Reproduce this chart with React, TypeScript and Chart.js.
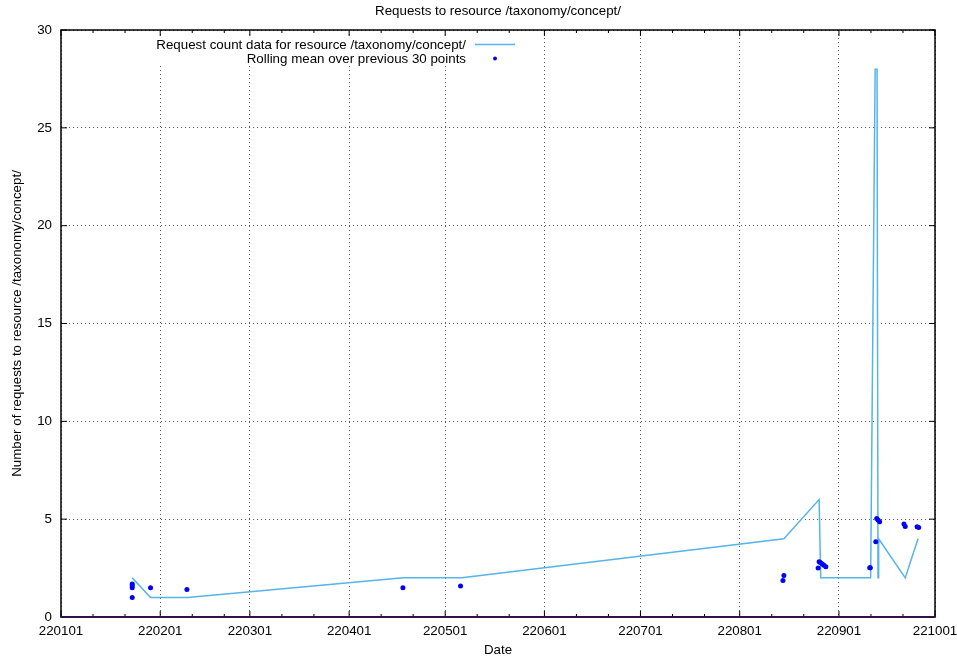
import React, { useEffect, useRef } from 'react';
import { Chart, registerables } from 'chart.js';

Chart.register(...registerables);

// ---- data ----
const monthStartDays = [0, 31, 59, 90, 120, 151, 181, 212, 243, 273];
const monthLabels = ['220101', '220201', '220301', '220401', '220501', '220601', '220701', '220801', '220901', '221001'];
const yTickValues = [0, 5, 10, 15, 20, 25, 30];

// request counts (x = day since 2022-01-01)
const countDays = [22.25, 27.97, 39.5, 106.9, 125.2, 225.8, 236.8, 237.3, 252.9, 254.3, 254.9, 255.2, 255.4, 263.7, 267.7];
const countValues = [2, 1, 1, 2, 2, 4, 6, 2, 2, 28, 28, 2, 4, 2, 4];

// rolling mean points
const meanDays = [22.25, 22.25, 22.25, 22.25, 27.97, 39.33, 106.8, 124.8, 225.5, 225.8, 236.5, 236.8, 237.2, 237.8, 238.3, 238.9, 252.6, 252.8, 254.5, 254.8, 255.2, 255.7, 263.3, 263.7, 267.4, 267.9];
const meanValues = [1.0, 1.5, 1.6, 1.69, 1.5, 1.41, 1.5, 1.58, 1.87, 2.12, 2.5, 2.83, 2.79, 2.71, 2.65, 2.57, 2.52, 2.52, 3.85, 5.04, 4.96, 4.87, 4.75, 4.63, 4.61, 4.58];

const TITLE = 'Requests to resource /taxonomy/concept/';
const X_TITLE = 'Date';
const Y_TITLE = 'Number of requests to resource /taxonomy/concept/';
const COUNT_LABEL = 'Request count data for resource /taxonomy/concept/';
const MEAN_LABEL = 'Rolling mean over previous 30 points';

// ---- styles ----
const FONT_FAMILY = '"Liberation Sans", Arial, Helvetica, sans-serif';
const FONT_SIZE = 13.33;
const LINE_COLOR = '#56b4e9';
const DOT_COLOR = '#0000ff';
const GRID_COLOR = 'rgba(60,60,60,0.85)';

const decorPlugin = {
  id: 'gnuplotDecor',
  afterDraw(chart: any) {
    const { ctx, chartArea: a, scales } = chart;
    const xs = scales.x;
    const ys = scales.y;
    ctx.save();

    // inward tick marks
    ctx.strokeStyle = '#000';
    ctx.lineWidth = 1;
    ctx.setLineDash([]);
    ctx.beginPath();
    monthStartDays.forEach((d) => {
      const px = xs.getPixelForValue(d);
      ctx.moveTo(px, a.bottom); ctx.lineTo(px, a.bottom - 6);
      ctx.moveTo(px, a.top); ctx.lineTo(px, a.top + 6);
    });
    for (let i = 0; i < monthStartDays.length - 1; i++) {
      [10, 20].forEach((off) => {
        const px = xs.getPixelForValue(monthStartDays[i] + off);
        ctx.moveTo(px, a.bottom); ctx.lineTo(px, a.bottom - 3);
        ctx.moveTo(px, a.top); ctx.lineTo(px, a.top + 3);
      });
    }
    yTickValues.forEach((v) => {
      const py = ys.getPixelForValue(v);
      ctx.moveTo(a.left, py); ctx.lineTo(a.left + 6, py);
      ctx.moveTo(a.right, py); ctx.lineTo(a.right - 6, py);
    });
    ctx.stroke();

    // frame
    ctx.lineWidth = 1.5;
    ctx.strokeStyle = '#000';
    ctx.beginPath();
    ctx.moveTo(a.left, a.bottom);
    ctx.lineTo(a.left, a.top);
    ctx.lineTo(a.right, a.top);
    ctx.lineTo(a.right, a.bottom);
    ctx.stroke();
    ctx.lineWidth = 2;
    ctx.strokeStyle = '#361046';
    ctx.beginPath();
    ctx.moveTo(a.left - 0.75, a.bottom);
    ctx.lineTo(a.right + 0.75, a.bottom);
    ctx.stroke();

    // title
    ctx.fillStyle = '#000';
    ctx.font = `${FONT_SIZE}px ${FONT_FAMILY}`;
    ctx.textAlign = 'center';
    ctx.textBaseline = 'middle';
    ctx.fillText(TITLE, (a.left + a.right) / 2, 11);

    // key (opaque box like gnuplot)
    const ds0 = chart.data.datasets[0];
    const ds1 = chart.data.datasets[1];
    ctx.fillStyle = '#fff';
    ctx.fillRect(150, 37, 380, 27);
    ctx.fillStyle = '#000';
    ctx.textAlign = 'right';
    ctx.fillText(ds0.label, 466, 45);
    ctx.fillText(ds1.label, 466, 59);
    ctx.strokeStyle = ds0.borderColor;
    ctx.lineWidth = ds0.borderWidth;
    ctx.beginPath();
    ctx.moveTo(475, 44.5);
    ctx.lineTo(515, 44.5);
    ctx.stroke();
    ctx.fillStyle = ds1.backgroundColor;
    ctx.beginPath();
    ctx.arc(495, 58.5, 2, 0, Math.PI * 2);
    ctx.fill();

    ctx.restore();
  },
};

export default function App() {
  const ref = useRef<HTMLCanvasElement | null>(null);

  useEffect(() => {
    if (!ref.current) return;
    const font = { family: FONT_FAMILY, size: FONT_SIZE };
    const chart = new Chart(ref.current, {
      type: 'scatter',
      data: {
        datasets: [
          {
            label: COUNT_LABEL,
            data: countDays.map((d, i) => ({ x: d, y: countValues[i] })),
            showLine: true,
            borderColor: LINE_COLOR,
            backgroundColor: LINE_COLOR,
            borderWidth: 1.5,
            pointRadius: 0,
            pointHoverRadius: 0,
            tension: 0,
            order: 2,
          },
          {
            label: MEAN_LABEL,
            data: meanDays.map((d, i) => ({ x: d, y: meanValues[i] })),
            showLine: false,
            backgroundColor: DOT_COLOR,
            borderColor: DOT_COLOR,
            pointRadius: 2.5,
            pointBorderWidth: 0,
            order: 1,
          },
        ],
      },
      options: {
        responsive: false,
        animation: false,
        devicePixelRatio: 1,
        events: [],
        layout: { padding: { left: 0, right: 22, top: 30, bottom: 0 } },
        plugins: {
          legend: { display: false },
          title: { display: false },
          tooltip: { enabled: false },
        },
        scales: {
          x: {
            type: 'linear',
            min: 0,
            max: 273,
            afterFit: (s: any) => { s.height = 39; s.paddingLeft = 0; s.paddingRight = 0; },
            afterBuildTicks: (s: any) => { s.ticks = monthStartDays.map((v) => ({ value: v })); },
            ticks: {
              autoSkip: false,
              maxRotation: 0,
              minRotation: 0,
              padding: 6,
              color: '#000',
              font,
              callback: (v: any) => {
                const i = monthStartDays.indexOf(Number(v));
                return i >= 0 ? monthLabels[i] : '';
              },
            },
            grid: { color: GRID_COLOR, lineWidth: 1, drawTicks: false },
            border: { display: false, dash: [1, 3] },
            title: {
              display: true,
              text: X_TITLE,
              color: '#000',
              font: { ...font, lineHeight: 0.8 },
              padding: { top: 0, bottom: 0 },
            },
          },
          y: {
            type: 'linear',
            min: 0,
            max: 30,
            afterFit: (s: any) => { s.width = 61; s.paddingTop = 0; s.paddingBottom = 0; },
            afterBuildTicks: (s: any) => { s.ticks = yTickValues.map((v) => ({ value: v })); },
            ticks: { padding: 9, color: '#000', font },
            grid: { color: GRID_COLOR, lineWidth: 1, drawTicks: false },
            border: { display: false, dash: [1, 3] },
            title: {
              display: true,
              text: Y_TITLE,
              color: '#000',
              font: { ...font, lineHeight: 1 },
              padding: { top: 10.5, bottom: 0 },
            },
          },
        },
      },
      plugins: [decorPlugin],
    } as any);
    return () => chart.destroy();
  }, []);

  return (
    <canvas
      ref={ref}
      width={957}
      height={656}
      style={{ position: 'fixed', left: 0, top: 0, width: 957, height: 656, background: '#fff' }}
    />
  );
}
